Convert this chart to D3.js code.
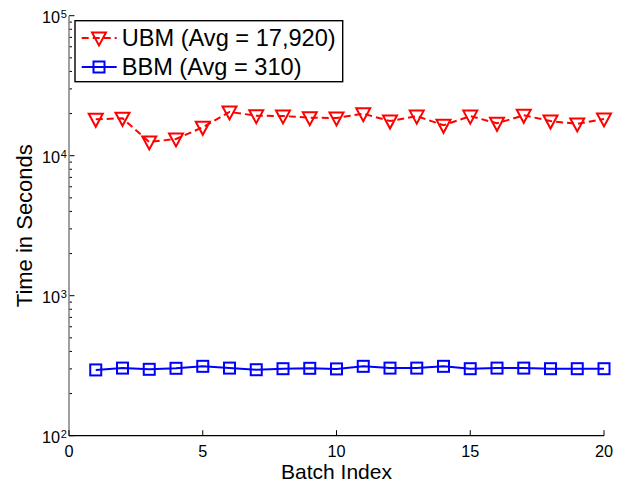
<!DOCTYPE html>
<html><head><meta charset="utf-8">
<script src="https://cdn.jsdelivr.net/npm/d3@7"></script>
<style>
html,body{margin:0;padding:0;background:#fff;}
svg{display:block;font-family:"Liberation Sans",Arial,Helvetica,sans-serif;}
</style></head>
<body><svg id="c" width="624" height="484"></svg>
<script>
const batches = [1,2,3,4,5,6,7,8,9,10,11,12,13,14,15,16,17,18,19,20];
const ubm = [18200,18500,12530,13160,15950,20520,19310,19210,18680,18590,19950,17670,19180,16490,19180,17040,19440,17670,16870,18310];
const bbm = [295,304,298,303,313,304,296,301,303,300,313,304,304,313,301,304,304,301,301,301];
const xTicks = [0,5,10,15,20];
const yDecades = [2,3,4,5];
const seriesNames = ["UBM (Avg = 17,920)","BBM (Avg = 310)"];
const xLabel = "Batch Index";
const yLabel = "Time in Seconds";

const svg = d3.select("#c");
const x = d3.scaleLinear().domain([0,20]).range([69,604]);
const y = d3.scaleLog().domain([100,1e5]).range([435.7,15.7]);

// y minor + major ticks (inward)
const yMinor = [];
for (let e=2;e<5;e++) for (let m=2;m<=9;m++) yMinor.push(m*Math.pow(10,e));
svg.selectAll("line.ymin").data(yMinor).enter().append("line")
  .attr("x1",x(0)).attr("x2",x(0)+3).attr("y1",d=>y(d)).attr("y2",d=>y(d))
  .attr("stroke","#000").attr("stroke-width",1);
svg.selectAll("line.ymaj").data(yDecades).enter().append("line")
  .attr("x1",x(0)).attr("x2",x(0)+5.5).attr("y1",d=>y(Math.pow(10,d))).attr("y2",d=>y(Math.pow(10,d)))
  .attr("stroke","#000").attr("stroke-width",1);
// y axis line (gray)
svg.append("line").attr("x1",x(0)).attr("x2",x(0)).attr("y1",y(1e5)).attr("y2",y(100))
  .attr("stroke","#808080").attr("stroke-width",1.5);
// x axis line
svg.append("line").attr("x1",x(0)).attr("x2",x(20)).attr("y1",y(100)).attr("y2",y(100))
  .attr("stroke","#000").attr("stroke-width",1.2);
svg.selectAll("line.xt").data(xTicks).enter().append("line")
  .attr("x1",d=>x(d)).attr("x2",d=>x(d)).attr("y1",y(100)).attr("y2",y(100)-5.5)
  .attr("stroke","#000").attr("stroke-width",1);
svg.selectAll("text.xt").data(xTicks).enter().append("text")
  .attr("x",d=>x(d)).attr("y",456.5).attr("text-anchor","middle")
  .attr("font-size",16.3).text(d=>d);
// y tick labels
const yl = svg.selectAll("g.yl").data(yDecades).enter().append("g");
yl.append("text").attr("x",60).attr("y",d=>y(Math.pow(10,d))+7.6).attr("text-anchor","end")
  .attr("font-size",16.3).text("10");
yl.append("text").attr("x",60.8).attr("y",d=>y(Math.pow(10,d))+2.3).attr("text-anchor","start")
  .attr("font-size",11).text(d=>d);
// axis labels
svg.append("text").attr("x",(x(0)+x(20))/2).attr("y",479).attr("text-anchor","middle")
  .attr("font-size",21).text(xLabel);
svg.append("text").attr("transform",`translate(32,${(y(100)+y(1e5))/2}) rotate(-90)`)
  .attr("text-anchor","middle").attr("font-size",22).text(yLabel);

// series
const line = d3.line().x((d,i)=>x(batches[i])).y(d=>y(d));
svg.append("path").datum(ubm).attr("d",line).attr("fill","none")
  .attr("stroke","#ff0000").attr("stroke-width",2).attr("stroke-dasharray","7,4");
svg.append("path").datum(bbm).attr("d",line).attr("fill","none")
  .attr("stroke","#0000ff").attr("stroke-width",2);

const tri = "M-7,-5.5L7,-5.5L0,7.5Z";
svg.selectAll("path.tri").data(ubm).enter().append("path")
  .attr("d",tri).attr("transform",(d,i)=>`translate(${x(batches[i])},${y(d)})`)
  .attr("fill","none").attr("stroke","#ff0000").attr("stroke-width",2);
svg.selectAll("rect.sq").data(bbm).enter().append("rect")
  .attr("x",(d,i)=>x(batches[i])-5.5).attr("y",d=>y(d)-5.5).attr("width",11).attr("height",11)
  .attr("fill","none").attr("stroke","#0000ff").attr("stroke-width",2);

// legend
svg.append("rect").attr("x",75).attr("y",20.7).attr("width",267.7).attr("height",61)
  .attr("fill","#fff").attr("stroke","#000").attr("stroke-width",1.4);
const legY = [38,67];
svg.append("line").attr("x1",81.7).attr("x2",116.7).attr("y1",legY[0]).attr("y2",legY[0])
  .attr("stroke","#ff0000").attr("stroke-width",2).attr("stroke-dasharray","7,4");
svg.append("path").attr("d",tri).attr("transform",`translate(99,${legY[0]})`)
  .attr("fill","none").attr("stroke","#ff0000").attr("stroke-width",2);
svg.append("line").attr("x1",81.7).attr("x2",116.7).attr("y1",legY[1]).attr("y2",legY[1])
  .attr("stroke","#0000ff").attr("stroke-width",2);
svg.append("rect").attr("x",99-5.5).attr("y",legY[1]-5.5).attr("width",11).attr("height",11)
  .attr("fill","none").attr("stroke","#0000ff").attr("stroke-width",2);
svg.selectAll("text.leg").data(seriesNames).enter().append("text")
  .attr("x",121.7).attr("y",(d,i)=>legY[i]+7.5).attr("font-size",23.6).text(d=>d);
</script></body></html>
